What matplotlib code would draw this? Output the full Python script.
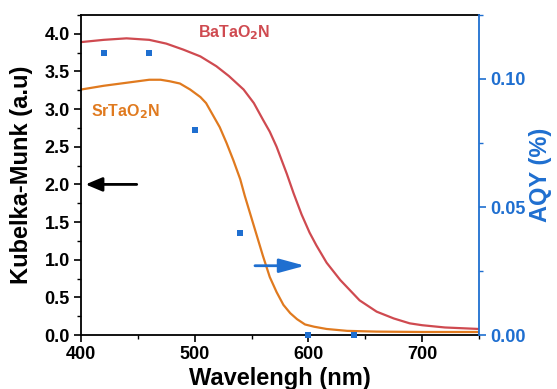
import numpy as np
import matplotlib
matplotlib.use("Agg")
import matplotlib.pyplot as plt
from matplotlib.ticker import MultipleLocator, FormatStrFormatter

plt.rcParams['font.family'] = ['Liberation Sans', 'DejaVu Sans']
plt.rcParams['font.weight'] = 'bold'
plt.rcParams['mathtext.default'] = 'bf'

# BaTaO2N Kubelka-Munk curve
ba_wl = [400, 420, 440, 460, 475, 490, 505, 519, 530, 543, 552, 560, 566, 572, 578, 581,
         587, 594, 601, 607, 616, 628, 645, 660, 675, 689, 700, 720, 750]
ba_km = [3.89, 3.92, 3.94, 3.92, 3.87, 3.79, 3.70, 3.57, 3.44, 3.26, 3.08, 2.86, 2.70, 2.50, 2.26, 2.14,
         1.88, 1.60, 1.36, 1.19, 0.96, 0.73, 0.46, 0.31, 0.22, 0.155, 0.13, 0.10, 0.08]

# SrTaO2N Kubelka-Munk curve
sr_wl = [400, 420, 440, 460, 470, 478, 487, 496, 505, 510, 516, 522, 528, 534, 540, 544,
         550, 555, 560, 566, 572, 578, 584, 590, 597, 605, 616, 634, 660, 700, 750]
sr_km = [3.26, 3.31, 3.35, 3.39, 3.39, 3.37, 3.34, 3.26, 3.16, 3.08, 2.92, 2.76, 2.55, 2.32, 2.07, 1.85,
         1.55, 1.30, 1.05, 0.77, 0.57, 0.40, 0.29, 0.21, 0.14, 0.11, 0.08, 0.055, 0.045, 0.04, 0.04]

# AQY data
aqy_wl = [420, 460, 500, 540, 600, 640]
aqy = [0.110, 0.110, 0.080, 0.040, 0.0, 0.0]

red = '#cf4a50'
orange = '#e07a1f'
blue = '#1f6fd0'

fig = plt.figure(figsize=(5.57, 3.89), dpi=100)
ax = fig.add_axes([81/557, 1-335/389, (479-81)/557, (335-15)/389])
ax.plot(ba_wl, ba_km, color=red, lw=1.6)
ax.plot(sr_wl, sr_km, color=orange, lw=1.6)
ax.set_xlim(400, 750)
ax.set_ylim(0, 4.25)
ax.xaxis.set_major_locator(MultipleLocator(100))
ax.xaxis.set_minor_locator(MultipleLocator(50))
ax.yaxis.set_major_locator(MultipleLocator(0.5))
ax.yaxis.set_minor_locator(MultipleLocator(0.25))
ax.yaxis.set_major_formatter(FormatStrFormatter('%.1f'))
ax.tick_params(axis='both', which='major', direction='out', length=5, width=1.2, labelsize=13, pad=3)
ax.tick_params(axis='both', which='minor', direction='out', length=3, width=1.0)
for s in ['left', 'bottom', 'top']:
    ax.spines[s].set_linewidth(1.3)
ax.spines['right'].set_visible(False)
for lab in ax.get_xticklabels() + ax.get_yticklabels():
    lab.set_fontweight('bold')
ax.set_xlabel('Wavelengh (nm)', fontsize=17, fontweight='bold')
ax.set_ylabel('Kubelka-Munk (a.u)', fontsize=17, fontweight='bold')
ax.xaxis.set_label_coords((280-81)/398, -(378-335)/320)
ax.yaxis.set_label_coords(-(81-22)/398, 0.5)
ax.xaxis.label.set_va('center')
ax.yaxis.label.set_va('center')

ax2 = ax.twinx()
ax2.scatter(aqy_wl, aqy, marker='s', s=22, color=blue, zorder=5, clip_on=False, linewidths=0)
ax2.set_ylim(0, 0.125)
ax2.yaxis.set_major_locator(MultipleLocator(0.05))
ax2.yaxis.set_minor_locator(MultipleLocator(0.025))
ax2.yaxis.set_major_formatter(FormatStrFormatter('%.2f'))
ax2.tick_params(axis='y', which='major', direction='out', length=5, width=1.2, colors=blue, labelsize=13, pad=3)
ax2.tick_params(axis='y', which='minor', direction='out', length=3, width=1.0, colors=blue)
for s in ['left', 'bottom', 'top']:
    ax2.spines[s].set_visible(False)
ax2.spines['right'].set_color(blue)
ax2.spines['right'].set_linewidth(1.3)
for lab in ax2.get_yticklabels():
    lab.set_fontweight('bold')
ax2.set_ylabel('AQY (%)', fontsize=17, fontweight='bold', color=blue)
ax2.yaxis.set_label_coords((541-81)/398, 0.5)
ax2.yaxis.label.set_va('center')

ax.text((198-81)/398, 0.944, 'BaTaO$_2$N', transform=ax.transAxes, color=red,
        fontsize=11.5, fontweight='bold', ha='left', va='center')
ax.text((91-81)/398, 0.697, 'SrTaO$_2$N', transform=ax.transAxes, color=orange,
        fontsize=11.5, fontweight='bold', ha='left', va='center')

# arrows
ax.annotate('', xy=(404, 2.0), xytext=(449, 2.0),
            arrowprops=dict(arrowstyle='-|>,head_length=1.0,head_width=0.42', color='black',
                            lw=2.0, mutation_scale=10, shrinkA=0, shrinkB=0))
ax.annotate('', xy=(597, 0.92), xytext=(553, 0.92),
            arrowprops=dict(arrowstyle='-|>,head_length=1.55,head_width=0.42', color=blue,
                            lw=2.0, mutation_scale=10, shrinkA=0, shrinkB=0))

fig.savefig('out.png', dpi=100)
